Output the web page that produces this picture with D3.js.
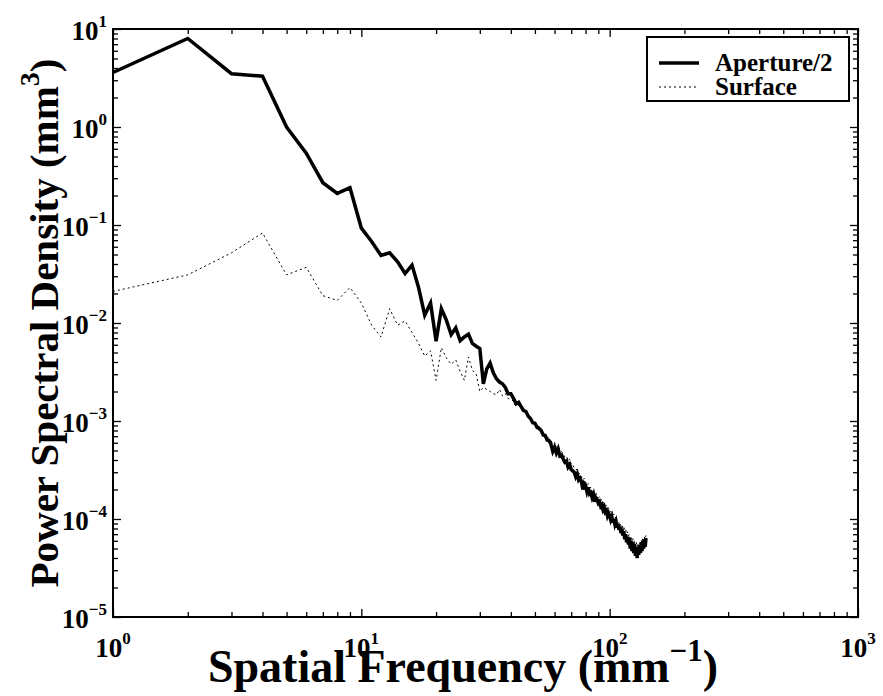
<!DOCTYPE html>
<html><head><meta charset="utf-8">
<script src="https://cdn.jsdelivr.net/npm/d3@7"></script>
<style>
body{margin:0;background:#fff;}
svg{display:block;font-family:"Liberation Serif","Times New Roman",serif;font-weight:bold;}
</style></head>
<body><svg id="c" width="883" height="696"></svg>
<script>
// ---- data ----
const apertureFreq = d3.range(1, 141);
const apertureVals = [3.6,8.0,3.5,3.3,1.0,0.54,0.27,0.21,0.24,0.093,
0.068,0.049,0.052,0.042,0.032,0.039,0.023,0.012,0.016,0.0065,
0.014,0.0107,0.0076,0.0089,0.0066,0.0072,0.0077,0.0062,0.0058,0.0055,
0.0024,0.0034,0.0039,0.0031,0.0027,0.0025,0.0024,0.0022,0.0019,0.0019,
0.0017,0.0015,0.00155,0.0014,0.00128,0.00125,0.00112,0.00106,0.00096,0.00095,
0.00086,0.00084,0.00080,0.00072,0.00071,0.00064,0.00063,0.00058,0.00049,0.00054,
0.00047,0.00052,0.00044,0.00045,0.00041,0.00038,0.00039,0.00034,0.00036,0.00032,
0.00031,0.00030,0.00027,0.00029,0.00025,0.00026,0.00024,0.00020,0.00023,0.00022,
0.00019,0.00021,0.00018,0.000185,0.000165,0.000178,0.000150,0.000165,0.000158,0.000145,
0.000150,0.000135,0.000140,0.000125,0.000132,0.000118,0.000122,0.000108,0.000115,0.000108,
0.000098,0.000105,0.000092,0.000100,0.000088,0.000094,0.000082,0.000089,0.000078,0.000084,
0.000072,0.000080,0.000068,0.000075,0.000062,0.000070,0.000058,0.000066,0.000055,0.000064,
0.000050,0.000060,0.000047,0.000058,0.000045,0.000055,0.000042,0.000052,0.000040,0.000050,
0.000043,0.000054,0.000045,0.000058,0.000047,0.000060,0.000050,0.000062,0.000052,0.000064];
const surfaceFreq = d3.range(1, 141);
const surfaceVals = [0.021,0.031,0.052,0.083,0.031,0.037,0.019,0.017,0.023,0.016,
0.0095,0.0072,0.014,0.0095,0.0105,0.0080,0.0062,0.0046,0.0052,0.0026,
0.0056,0.0044,0.0038,0.0042,0.0032,0.0026,0.0045,0.0033,0.0030,0.0020,
0.0022,0.0021,0.0020,0.0019,0.00185,0.0021,0.0018,0.0019,0.0017,0.00165,
0.0016,0.0014,0.00145,0.00135,0.0013,0.0012,0.00115,0.00108,0.00100,0.00098,
0.00090,0.00088,0.00082,0.00078,0.00074,0.00070,0.00066,0.00064,0.00058,0.00060,
0.00054,0.00056,0.00050,0.00049,0.00046,0.00043,0.00044,0.00039,0.00041,0.00036,
0.00036,0.00033,0.00032,0.00032,0.00029,0.00029,0.00027,0.00025,0.00026,0.00024,
0.00022,0.00023,0.00021,0.00021,0.00019,0.00020,0.00018,0.000185,0.000175,0.000165,
0.000168,0.000155,0.000158,0.000145,0.000148,0.000138,0.000138,0.000128,0.000130,0.000122,
0.000118,0.000118,0.000110,0.000112,0.000102,0.000105,0.000096,0.000098,0.000090,0.000093,
0.000085,0.000088,0.000080,0.000083,0.000076,0.000078,0.000071,0.000074,0.000067,0.000070,
0.000063,0.000066,0.000060,0.000063,0.000057,0.000060,0.000054,0.000058,0.000052,0.000056,
0.000053,0.000058,0.000055,0.000060,0.000057,0.000064,0.000060,0.000066,0.000062,0.000068];
const xTickExps = [0,1,2,3];
const yTickExps = [1,0,-1,-2,-3,-4,-5];
const seriesNames = ["Aperture/2","Surface"];
const xTitle = "Spatial Frequency (mm";
const xTitleSup = "\u22121";
const yTitle = "Power Spectral Density (mm";
const yTitleSup = "3";

// ---- layout ----
const L=113, R=858, T=29, B=617;
const svg = d3.select("#c");
const x = d3.scaleLog().domain([1,1000]).range([L,R]);
const y = d3.scaleLog().domain([1e-5,10]).range([B,T]);

const minorX=[], minorY=[];
for (let e=0;e<3;e++) for (let k=2;k<10;k++) minorX.push(k*Math.pow(10,e));
for (let e=-5;e<1;e++) for (let k=2;k<10;k++) minorY.push(k*Math.pow(10,e));
const majorX = xTickExps.map(e=>Math.pow(10,e));
const majorY = yTickExps.map(e=>Math.pow(10,e));

function ax(gen, vals, size, tr){
  const g = svg.append("g").attr("transform",tr)
    .call(gen.tickValues(vals).tickSizeInner(-size).tickSizeOuter(0).tickFormat(""));
  g.select(".domain").remove();
  g.selectAll("line").attr("stroke","#000").attr("stroke-width",1.3);
}
ax(d3.axisBottom(x), majorX, 8, `translate(0,${B})`);
ax(d3.axisBottom(x), minorX, 5, `translate(0,${B})`);
ax(d3.axisTop(x), majorX, 8, `translate(0,${T})`);
ax(d3.axisTop(x), minorX, 5, `translate(0,${T})`);
ax(d3.axisLeft(y), majorY, 8, `translate(${L},0)`);
ax(d3.axisLeft(y), minorY, 5, `translate(${L},0)`);
ax(d3.axisRight(y), majorY, 8, `translate(${R},0)`);
ax(d3.axisRight(y), minorY, 5, `translate(${R},0)`);

// lines
const line = d3.line().x(d=>x(d[0])).y(d=>y(d[1]));
svg.append("path").datum(surfaceFreq.map((f,i)=>[f,surfaceVals[i]]))
  .attr("d",line).attr("fill","none").attr("stroke","#000")
  .attr("stroke-width",1).attr("stroke-dasharray","2,3");
svg.append("path").datum(apertureFreq.map((f,i)=>[f,apertureVals[i]]))
  .attr("d",line).attr("fill","none").attr("stroke","#000")
  .attr("stroke-width",3.5).attr("stroke-linejoin","miter");

// frame
svg.append("rect").attr("x",L).attr("y",T).attr("width",R-L).attr("height",B-T)
  .attr("fill","none").attr("stroke","#000").attr("stroke-width",2);

// tick labels
xTickExps.forEach(e=>{
  const t = svg.append("text").attr("x",x(Math.pow(10,e))).attr("y",B+40)
    .attr("text-anchor","middle").attr("font-size",27);
  t.append("tspan").text("10");
  t.append("tspan").attr("font-size",17).attr("dy",-13).text(e<0?"\u2212"+(-e):String(e));
});
yTickExps.forEach(e=>{
  const t = svg.append("text").attr("x",L-6).attr("y",y(Math.pow(10,e))+11)
    .attr("text-anchor","end").attr("font-size",27);
  t.append("tspan").text("10");
  t.append("tspan").attr("font-size",17).attr("dy",-13).text(e<0?"\u2212"+(-e):String(e));
});

// axis titles
const xt = svg.append("text").attr("x",463).attr("y",682)
  .attr("text-anchor","middle").attr("font-size",46);
xt.append("tspan").text(xTitle);
xt.append("tspan").attr("font-size",31).attr("dy",-21).text(xTitleSup);
xt.append("tspan").attr("dy",21).text(")");

const yt = svg.append("text").attr("transform",`translate(58,323) rotate(-90)`)
  .attr("text-anchor","middle").attr("font-size",41);
yt.append("tspan").text(yTitle);
yt.append("tspan").attr("font-size",28).attr("dy",-19).text(yTitleSup);
yt.append("tspan").attr("dy",19).text(")");

// legend
const lg = svg.append("g");
lg.append("rect").attr("x",647).attr("y",37).attr("width",202).attr("height",64)
  .attr("fill","#fff").attr("stroke","#000").attr("stroke-width",2);
const legY=[63,87];
seriesNames.forEach((n,i)=>{
  lg.append("line").attr("x1",659).attr("x2",699).attr("y1",legY[i]).attr("y2",legY[i])
    .attr("stroke","#000").attr("stroke-width",i===0?3.5:1)
    .attr("stroke-dasharray",i===0?null:"2,3");
  lg.append("text").attr("x",715).attr("y",legY[i]+8).attr("font-size",25).text(n);
});
</script></body></html>
